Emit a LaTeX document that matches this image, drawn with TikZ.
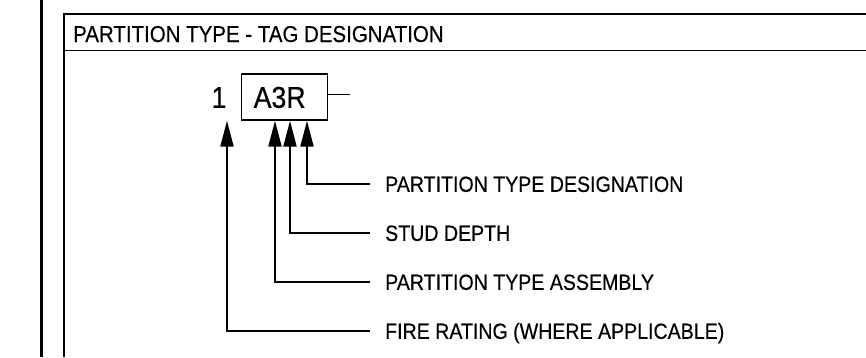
\documentclass[tikz,border=0pt]{standalone}
\usepackage{fontspec}
\setmainfont[FakeStretch=0.89,FakeBold=0.4]{Liberation Sans}
\usetikzlibrary{arrows.meta}
\begin{document}
\begin{tikzpicture}[x=1pt,y=-1pt,
  frame/.style={line width=2.2pt},
  thinrule/.style={line width=1pt},
  lbl/.style={inner sep=0pt, anchor=west, font=\fontsize{22}{26}\selectfont, text height=15.7pt, text depth=0pt},
  bigtext/.style={font=\fontsize{30}{36}\selectfont, text height=21.5pt, text depth=0pt},
  leader/.style={line width=2pt, -{Triangle[length=26pt,width=13pt]}},
]
\useasboundingbox (0,0) rectangle (866,357);
% sheet border and title block
\draw[line width=3pt] (41,0) -- (41,357);
\draw[frame] (64,357) -- (64,14) -- (866,14);
\draw[thinrule] (64,50) -- (866,50);
\node[anchor=base west, inner sep=0pt, font=\fontsize{23}{27}\selectfont] (title) at (73,42) {PARTITION TYPE - TAG DESIGNATION};
% tag
\node[draw, line width=1.4pt, minimum height=46pt, inner xsep=0pt, inner ysep=0pt, anchor=west, bigtext] (tag) at (241,97) {\hspace*{12pt}A3R\hspace*{22pt}};
\node[bigtext, inner sep=0pt] (num) at (219,97) {1};
\coordinate (stubend) at (350,94);
\draw[line width=1pt] (tag.east |- stubend) -- (stubend);
% labels
\node[lbl] (des) at (385,184) {PARTITION TYPE DESIGNATION};
\node[lbl] (stud) at (385,233) {STUD DEPTH};
\node[lbl] (asm) at (385,282) {PARTITION TYPE ASSEMBLY};
\node[lbl] (fire) at (385,331) {FIRE RATING (WHERE APPLICABLE)};
% leaders
\draw[leader] (des.west) ++(-15,0) -| ([xshift=66pt]tag.south west);
\draw[leader] (stud.west) ++(-15,0) -| ([xshift=49pt]tag.south west);
\draw[leader] (asm.west) ++(-15,0) -| ([xshift=34pt]tag.south west);
\draw[leader] (fire.west) ++(-15,0) -| ([xshift=-14pt]tag.south west);
\end{tikzpicture}
\end{document}
